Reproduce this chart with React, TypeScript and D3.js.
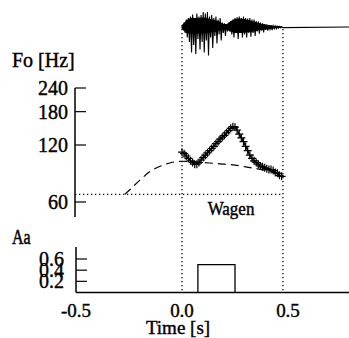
import React from "react";
import * as d3 from "d3";

// ---- data ----
const waveTimes = d3.range(0, 48).map((i) => i / 100);
const waveUp = [0.05, 0.15, 0.25, 0.3, 0.35, 0.42, 0.3, 0.45, 0.35, 0.4, 0.5, 0.45, 0.5, 0.35, 0.4, 0.3, 0.35, 0.25, 0.3, 0.15, 0.12, 0.1, 0.15, 0.2, 0.25, 0.3, 0.32, 0.35, 0.3, 0.35, 0.3, 0.28, 0.3, 0.25, 0.25, 0.2, 0.18, 0.15, 0.12, 0.1, 0.08, 0.06, 0.05, 0.04, 0.03, 0.02, 0.02, 0.01];
const waveDown = [0.05, 0.2, 0.35, 0.5, 0.85, 0.6, 0.9, 0.4, 0.75, 0.5, 0.85, 0.45, 0.95, 0.35, 0.7, 0.3, 0.55, 0.25, 0.45, 0.2, 0.3, 0.15, 0.15, 0.25, 0.35, 0.2, 0.4, 0.2, 0.35, 0.25, 0.35, 0.2, 0.32, 0.2, 0.3, 0.15, 0.22, 0.12, 0.18, 0.1, 0.12, 0.08, 0.1, 0.06, 0.06, 0.04, 0.03, 0.02];
const waveCoreUp = [0.05, 0.12, 0.2, 0.25, 0.28, 0.3, 0.28, 0.3, 0.28, 0.3, 0.3, 0.3, 0.28, 0.25, 0.25, 0.22, 0.2, 0.18, 0.15, 0.1, 0.08, 0.08, 0.12, 0.18, 0.22, 0.25, 0.26, 0.27, 0.26, 0.25, 0.24, 0.22, 0.2, 0.18, 0.16, 0.14, 0.12, 0.1, 0.08, 0.07, 0.06, 0.05, 0.04, 0.03, 0.02, 0.02, 0.01, 0.01];
const waveCoreDown = [0.05, 0.12, 0.18, 0.2, 0.2, 0.2, 0.2, 0.2, 0.2, 0.2, 0.2, 0.2, 0.18, 0.18, 0.16, 0.15, 0.14, 0.12, 0.1, 0.08, 0.08, 0.08, 0.1, 0.14, 0.16, 0.18, 0.18, 0.18, 0.18, 0.18, 0.17, 0.16, 0.15, 0.14, 0.13, 0.12, 0.1, 0.09, 0.08, 0.07, 0.06, 0.05, 0.04, 0.03, 0.02, 0.02, 0.01, 0.01];

const f0Times = d3.range(0, 48).map((i) => i / 100);
const f0Values = [110, 108, 105, 102, 99, 97, 95, 95, 97, 100, 103, 106, 109, 112, 115, 118, 122, 125, 129, 132, 135, 139, 143, 147, 150, 149, 144, 137, 131, 125, 118, 112, 106, 102, 99, 97, 95, 93, 92, 91, 90, 89, 89, 88, 86, 85, 83, 82];

const phraseTimes = [-0.27, -0.25, -0.2, -0.15, -0.1, -0.05, 0, 0.05, 0.1, 0.15, 0.2, 0.25, 0.3, 0.35, 0.4, 0.47];
const phraseValues = [65.8, 69, 78, 87, 93, 97, 98.5, 98, 97, 96, 95, 94, 92, 90, 88, 85];

const baseF0 = 65.8;
const f0Ticks = [60, 120, 180, 240];
const aaTicks = [0.2, 0.4, 0.6];
const timeTicks = [-0.5, 0.0, 0.5];
const boundaries = [0.0, 0.476];
const accentOn = 0.075;
const accentOff = 0.25;
const accentAmp = 0.5;
const tStart = -0.5;
const tEnd = 0.79;

const FONT = "'Liberation Serif', 'Times New Roman', serif";

function Txt({ x, y, anchor = "start", children, size = 20, sy = 1.1 }: any) {
  return (
    <text
      transform={`translate(${x},${y}) scale(1,${sy})`}
      textAnchor={anchor}
      fontFamily={FONT}
      fontSize={size}
      fill="#000"
      stroke="#000"
      strokeWidth={0.4}
    >
      {children}
    </text>
  );
}

export default function App() {
  const x = d3.scaleLinear().domain([-0.5, 0.5]).range([76, 288]);
  const yW = d3.scaleLinear().domain([-1, 1]).range([57, -3]);
  const yF = d3.scaleLog().domain([60, 240]).range([202, 88]);
  const yA = d3.scaleLinear().domain([0, 0.6]).range([292.5, 259]);

  const wavePts: [number, number][] = [];
  waveTimes.forEach((t, i) => {
    wavePts.push([x(t), yW(waveUp[i])]);
    wavePts.push([x(t + 0.005), yW(-waveDown[i])]);
  });
  wavePts.push([x(tEnd), yW(0)]);
  const wavePath = d3.line()(wavePts) as string;

  const coreArea = d3
    .area<number>()
    .x((t) => x(t))
    .y0((_, i) => yW(-waveCoreDown[i]))
    .y1((_, i) => yW(waveCoreUp[i]))(waveTimes) as string;

  const f0Line = d3
    .line<number>()
    .x((_, i) => x(f0Times[i]))
    .y((v) => yF(v))
    .curve(d3.curveMonotoneX)(f0Values) as string;

  const phraseLine = d3
    .line<number>()
    .x((_, i) => x(phraseTimes[i]))
    .y((v) => yF(v))
    .curve(d3.curveMonotoneX)(phraseValues) as string;

  const stepPath = d3.line()([
    [x(accentOn), yA(0)],
    [x(accentOn), yA(accentAmp)],
    [x(accentOff), yA(accentAmp)],
    [x(accentOff), yA(0)],
  ]) as string;

  return (
    <svg width={349} height={338} style={{ position: "absolute", left: 0, top: 0, background: "#fff" }}>
      <rect width={349} height={338} fill="#fff" />
      {/* waveform */}
      <path d={coreArea} fill="#000" stroke="#000" strokeWidth={1} />
      <path d={wavePath} fill="none" stroke="#000" strokeWidth={1.1} />

      {/* boundaries */}
      {boundaries.map((b) => (
        <line key={b} x1={x(b)} x2={x(b)} y1={29} y2={292} stroke="#000" strokeWidth={1.3} strokeDasharray="1.3 2.7" />
      ))}

      {/* F0 axis */}
      <Txt x={12} y={67}>Fo [Hz]</Txt>
      <line x1={75} x2={75} y1={yF(240)} y2={yF(50)} stroke="#000" strokeWidth={1.5} />
      {f0Ticks.map((v) => (
        <g key={v}>
          <line x1={75} x2={86} y1={yF(v)} y2={yF(v)} stroke="#000" strokeWidth={1.2} />
          <Txt x={68} y={yF(v) + 7} anchor="end">{String(v)}</Txt>
        </g>
      ))}

      {/* base F0 */}
      <line x1={75} x2={x(boundaries[1])} y1={yF(baseF0)} y2={yF(baseF0)} stroke="#000" strokeWidth={1.3} strokeDasharray="1.3 2.7" />
      {/* phrase component */}
      <path d={phraseLine} fill="none" stroke="#000" strokeWidth={1.2} strokeDasharray="8 5" />
      {/* F0 contour */}
      <path d={f0Line} fill="none" stroke="#000" strokeWidth={1.4} />
      {f0Values.map((v, i) => {
        const cx = x(f0Times[i]);
        const cy = yF(v);
        return (
          <path key={i} d={`M${cx - 4},${cy}H${cx + 4}M${cx},${cy - 4}V${cy + 4}`} stroke="#000" strokeWidth={1.2} />
        );
      })}
      <Txt x={231} y={215} anchor="middle" size={17} sy={1.1}>Wagen</Txt>

      {/* Aa */}
      <Txt x={12} y={244} size={16} sy={1.25}>Aa</Txt>
      <line x1={76} x2={76} y1={247} y2={yA(0)} stroke="#000" strokeWidth={1.5} />
      {aaTicks.map((v) => (
        <g key={v}>
          <line x1={76} x2={87} y1={yA(v)} y2={yA(v)} stroke="#000" strokeWidth={1.2} />
          <Txt x={64} y={yA(v) + 7} anchor="end">{v.toFixed(1)}</Txt>
        </g>
      ))}
      <line x1={x(tStart)} x2={x(tEnd)} y1={yA(0)} y2={yA(0)} stroke="#000" strokeWidth={1.5} />
      <path d={stepPath} fill="none" stroke="#000" strokeWidth={1.3} />

      {timeTicks.map((t) => (
        <Txt key={t} x={x(t)} y={317} anchor="middle" size={19} sy={0.95}>{t.toFixed(1)}</Txt>
      ))}
      <Txt x={178} y={334} anchor="middle" size={19} sy={1.0}>Time [s]</Txt>
    </svg>
  );
}
